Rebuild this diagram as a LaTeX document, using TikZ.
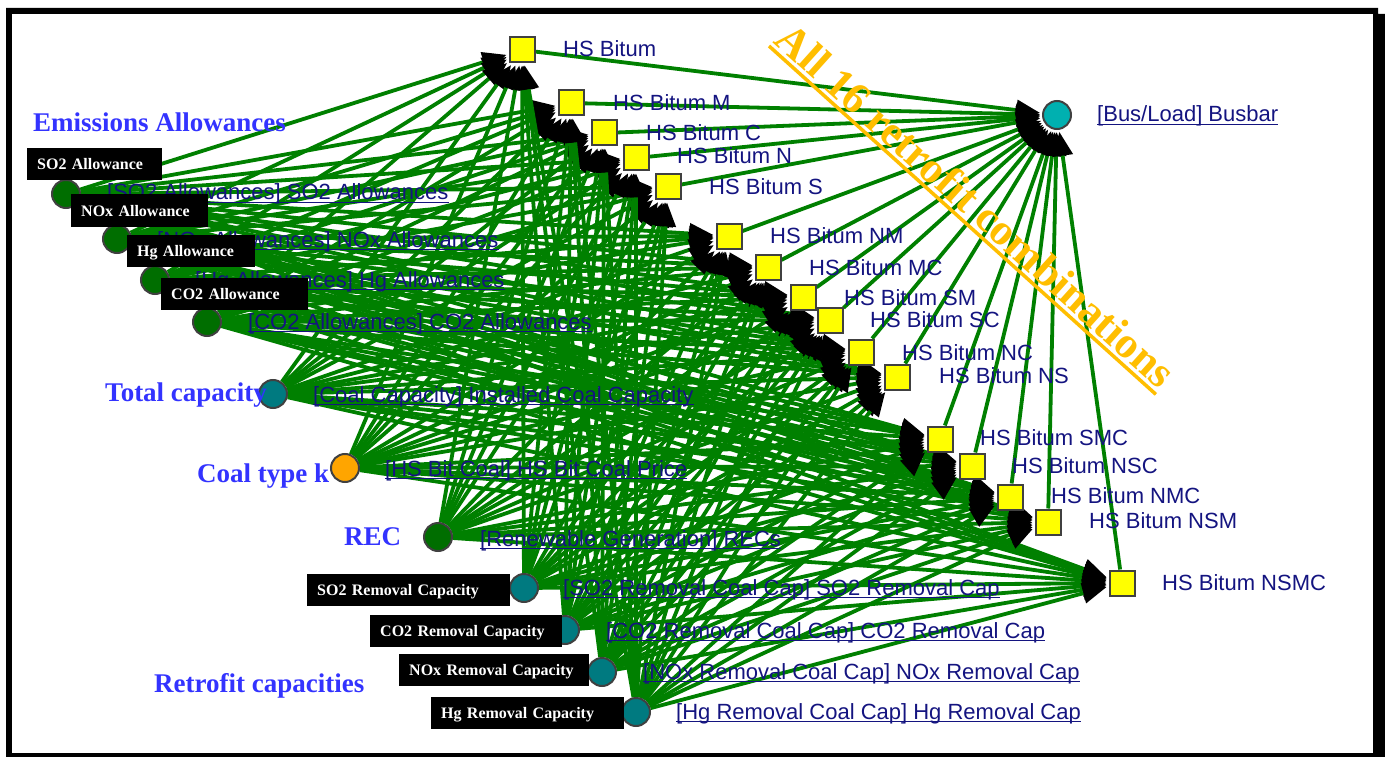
\documentclass[tikz,border=0pt]{standalone}
\usepackage{fontspec}
\setmainfont{Liberation Serif}
\setsansfont{Liberation Sans}
\usetikzlibrary{arrows.meta}

\definecolor{edgegreen}{RGB}{0,128,0}
\definecolor{nodegreen}{RGB}{0,110,0}
\definecolor{tealnode}{RGB}{0,122,128}
\definecolor{busnode}{RGB}{0,176,176}
\definecolor{orangenode}{RGB}{255,165,0}
\definecolor{rimgrey}{RGB}{64,64,64}
\definecolor{optyellow}{RGB}{255,255,0}
\definecolor{navytext}{RGB}{20,20,128}
\definecolor{catblue}{RGB}{51,51,255}
\definecolor{comboorange}{RGB}{255,190,0}

\pgfdeclarelayer{frame}
\pgfdeclarelayer{edges}
\pgfsetlayers{frame,edges,main}

\begin{document}
\begin{tikzpicture}[x=1pt,y=-1pt,
  inp/.style={circle,draw=rimgrey,line width=2pt,minimum size=28pt,inner sep=0pt},
  opt/.style={rectangle,draw=rimgrey,line width=2pt,fill=optyellow,minimum size=25pt,inner sep=0pt},
  feed/.style={draw=edgegreen,line width=3.8pt,shorten >=2pt,
    -{Triangle[length=24pt,width=20pt,color=black]}},
  lbl/.style={anchor=base west,inner sep=0pt,text=navytext,font=\sffamily\fontsize{22}{26}\selectfont},
  uline/.style={draw=navytext,line width=1.3pt},
  cat/.style={anchor=base west,inner sep=0pt,text=catblue,font=\bfseries\fontsize{27}{32}\selectfont},
  tag/.style={fill=black,text=white,anchor=west,font=\bfseries\fontsize{16}{19}\selectfont,
    minimum height=32pt,inner ysep=0pt,inner xsep=10pt,text height=11pt,text depth=0pt,
    align=left,text width=#1},
]
\useasboundingbox (0,0) rectangle (1385,757);

% frame with a heavier right edge
\begin{pgfonlayer}{frame}
\fill[black] (6,8) -- (1378,8) -- (1378,14) -- (1385,14) -- (1385,757) -- (6,757) -- cycle;
\fill[white] (12,14) rectangle (1373,753);
\end{pgfonlayer}

% input quantities
\foreach \n/\x/\y/\c in {
  so2/66/194/nodegreen, nox/117/239/nodegreen, hg/155/280/nodegreen, co2/207/322/nodegreen,
  cap/273/394/tealnode, coal/345/468/orangenode, rec/438/537/nodegreen,
  so2r/524/588/tealnode, co2r/565/630/tealnode, noxr/602/672/tealnode, hgr/636/712/tealnode}
  {\node[inp,fill=\c] (\n) at (\x,\y) {};}

% retrofit options
\foreach \n/\x/\y/\lx/\ly/\t in {
  1/522/50/563/57/HS Bitum,
  2/571/103/613/111/HS Bitum M,
  3/604/133/646/141/HS Bitum C,
  4/636/158/677/164/HS Bitum N,
  5/668/187/709/194/HS Bitum S,
  6/729/236/770/243/HS Bitum NM,
  7/768/267/809/275/HS Bitum MC,
  8/803/297/844/305/HS Bitum SM,
  9/830/320/870/327/HS Bitum SC,
  10/861/352/902/360/HS Bitum NC,
  11/897/377/939/383/HS Bitum NS,
  12/940/439/980/445/HS Bitum SMC,
  13/972/466/1012/473/HS Bitum NSC,
  14/1010/497/1051/503/HS Bitum NMC,
  15/1048/522/1089/528/HS Bitum NSM,
  16/1122/583/1162/590/HS Bitum NSMC}
  {\node[opt] (q\n) at (\x,\y) {};
   \node[lbl] (q\n-l) at (\lx,\ly) {\t};}

% busbar
\node[inp,fill=busnode] (bus) at (1057,115) {};

% connectors
\begin{pgfonlayer}{edges}
\foreach \a in {so2,nox,hg,co2,cap,coal,rec,so2r,co2r,noxr,hgr}
  \foreach \b in {1,...,16}
    \draw[feed] (\a) -- (q\b);
\foreach \b in {1,...,16}
  \draw[feed] (q\b) -- (bus);
\end{pgfonlayer}

% underlined input labels
\foreach \n/\lx/\ly/\t in {
  so2/107/200/{[SO2 Allowances] SO2 Allowances},
  nox/157/247/{[NOx Allowances] NOx Allowances},
  hg/195/287/{[Hg Allowances] Hg Allowances},
  co2/248/329/{[CO2 Allowances] CO2 Allowances},
  cap/313/402/{[Coal Capacity] Installed Coal Capacity},
  coal/385/476/{[HS Bit Coal] HS Bit Coal Price},
  rec/480/546/{[Renewable Generation] RECs},
  so2r/563/595/{[SO2 Removal Coal Cap] SO2 Removal Cap},
  co2r/606/638/{[CO2 Removal Coal Cap] CO2 Removal Cap},
  noxr/643/679/{[NOx Removal Coal Cap] NOx Removal Cap},
  hgr/676/719/{[Hg Removal Coal Cap] Hg Removal Cap},
  bus/1097/122/{[Bus/Load] Busbar}}
  {\node[lbl] (\n-l) at (\lx,\ly) {\t};
   \draw[uline] ([yshift=-2.5pt]\n-l.base west) -- ([yshift=-2.5pt]\n-l.base east);}

% group captions
\node[cat] (catEm)   at (33,132)  {Emissions Allowances};
\node[cat] (catTot)  at (105,401) {Total capacity};
\node[cat] (catCoal) at (197,482) {Coal type k};
\node[cat] (catRec)  at (344,545) {REC};
\node[cat] (catRet)  at (154,692) {Retrofit capacities};

% black tags
\node[tag=115pt] (tSO2)  at (27,164)    {SO2 Allowance};
\node[tag=117pt] (tNOx)  at (71,210.5)  {NOx Allowance};
\node[tag=108pt] (tHg)   at (127,250.5) {Hg Allowance};
\node[tag=127pt] (tCO2)  at (161,294)   {CO2 Allowance};
\node[tag=183pt] (tSO2r) at (307,590)   {SO2 Removal Capacity};
\node[tag=172pt] (tCO2r) at (370,631)   {CO2 Removal Capacity};
\node[tag=170pt] (tNOxr) at (399,670)   {NOx Removal Capacity};
\node[tag=173pt] (tHgr)  at (431,712.5) {Hg Removal Capacity};

% diagonal caption
\node[rotate=-42,anchor=south west,inner xsep=0pt,inner ysep=5pt,text depth=0pt,
      text=comboorange,font=\bfseries\fontsize{44}{50}\selectfont] (combo) at (769,46)
      {All 16 retrofit combinations};
\draw[comboorange,line width=3.5pt] (combo.south west) -- (combo.south east);
\end{tikzpicture}
\end{document}
